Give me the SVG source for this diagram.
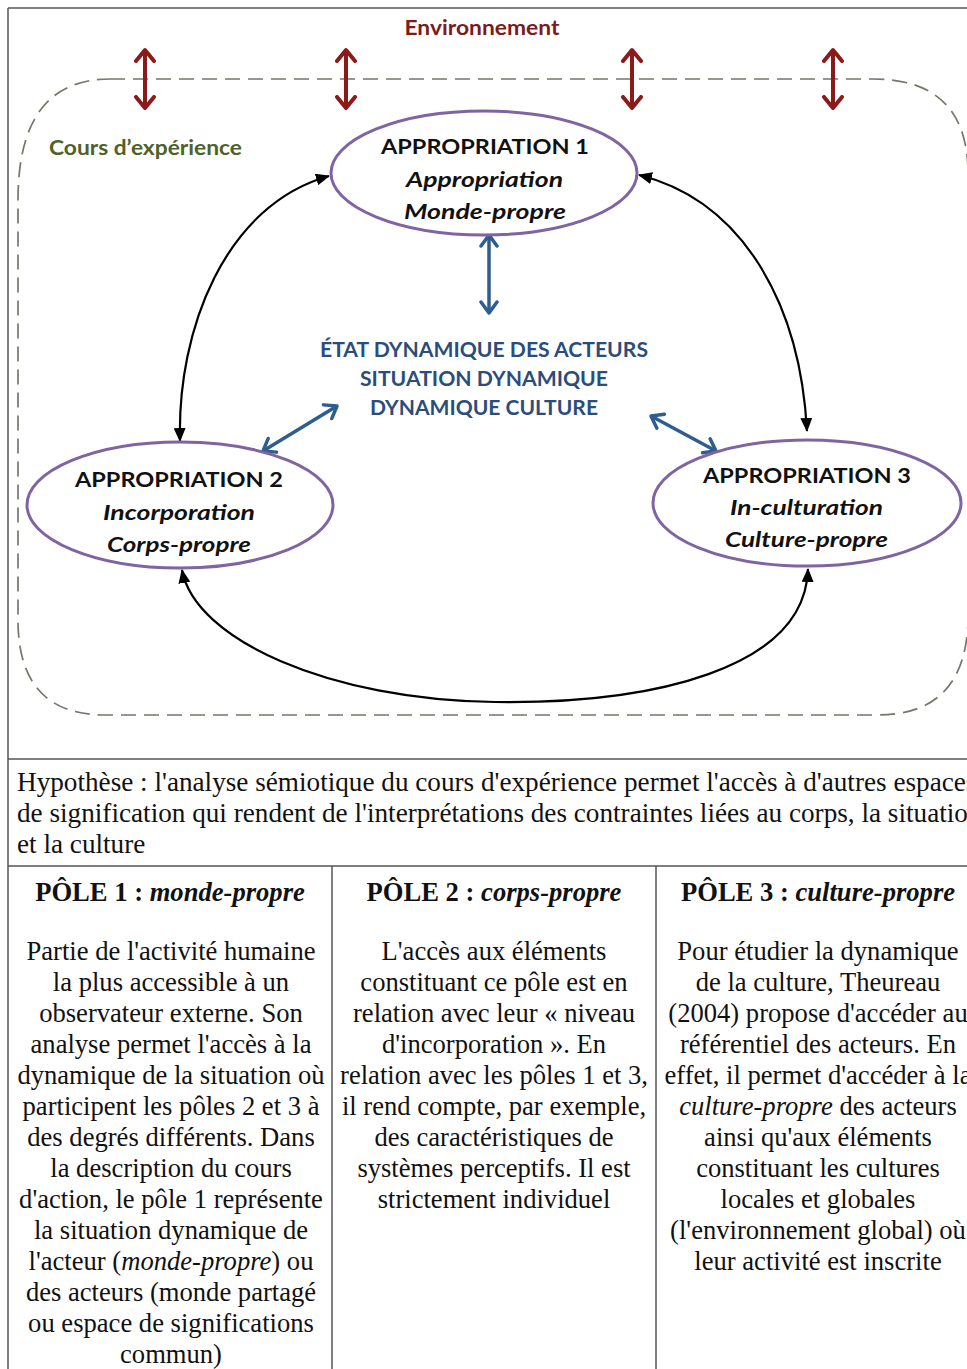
<svg xmlns="http://www.w3.org/2000/svg" width="967" height="1369" viewBox="0 0 967 1369">
<style>
.sans{font-family:Lato,"Open Sans","Liberation Sans",sans-serif;font-weight:bold}
.ell{fill:#fff;stroke:#8064a2;stroke-width:3}
.etxt{font-size:21.5px;fill:#111;text-anchor:middle}
.it{font-style:italic}
.ctr{font-size:20px;fill:#2a4d7c;text-anchor:middle}
.red{stroke:#8b1a1a;stroke-width:4;fill:none}
.blue{stroke:#2e5d8f;stroke-width:3.5;fill:none}
.blk{stroke:#000;stroke-width:2.2;fill:none}
.tb{stroke:#555;stroke-width:1.5;fill:none}
.ser{font-family:"Liberation Serif","Times New Roman",serif;font-size:26.6px;fill:#111}
.hyp{font-size:27.2px}
.c{text-anchor:middle}
.b{font-weight:bold}
</style>
<defs>
<marker id="mr" viewBox="0 0 16 22" refX="13" refY="11" markerWidth="16" markerHeight="22" markerUnits="userSpaceOnUse" orient="auto-start-reverse">
<path d="M2,2 L13,11 L2,20" fill="none" stroke="#8b1a1a" stroke-width="4" stroke-linecap="round" stroke-linejoin="round"/>
</marker>
<marker id="mb" viewBox="0 0 16 20" refX="13" refY="10" markerWidth="16" markerHeight="20" markerUnits="userSpaceOnUse" orient="auto-start-reverse">
<path d="M2,2 L13,10 L2,18" fill="none" stroke="#2e5d8f" stroke-width="3.5" stroke-linecap="round" stroke-linejoin="round"/>
</marker>
<marker id="mk" viewBox="0 0 14 12" refX="13" refY="6" markerWidth="14" markerHeight="12" markerUnits="userSpaceOnUse" orient="auto-start-reverse">
<path d="M0,0 L14,6 L0,12 Z" fill="#000"/>
</marker>
</defs>
<rect width="967" height="1369" fill="#fff"/>

<g id="table">
<path class="tb" d="M8,8 H967 M8,8 V1369 M8,759 H967 M8,866 H967 M332,866 V1369 M656,866 V1369"/>
</g>

<g id="cours">
<path d="M110,79 H873 Q966,79 968,170 V620 Q966,715 877,715 H105 Q18,715 18,620 V200 Q18,79 110,79 Z" fill="none" stroke="#76766a" stroke-width="1.7" stroke-dasharray="15,8"/>
<text class="sans" x="49" y="155" font-size="21" fill="#4f6228" textLength="193" lengthAdjust="spacingAndGlyphs">Cours d’expérience</text>
</g>

<g id="environnement">
<text class="sans" x="482" y="35" font-size="21" fill="#7b1c1c" text-anchor="middle" textLength="155" lengthAdjust="spacingAndGlyphs">Environnement</text>
</g>

<g id="connectors">
<line class="red" x1="145" y1="50" x2="145" y2="108" marker-start="url(#mr)" marker-end="url(#mr)"/>
<line class="red" x1="346" y1="50" x2="346" y2="108" marker-start="url(#mr)" marker-end="url(#mr)"/>
<line class="red" x1="632" y1="50" x2="632" y2="108" marker-start="url(#mr)" marker-end="url(#mr)"/>
<line class="red" x1="833" y1="50" x2="833" y2="108" marker-start="url(#mr)" marker-end="url(#mr)"/>
<line class="blue" x1="489" y1="235" x2="489" y2="313" marker-start="url(#mb)" marker-end="url(#mb)"/>
<line class="blue" x1="263" y1="451" x2="337" y2="406" marker-start="url(#mb)" marker-end="url(#mb)"/>
<line class="blue" x1="651" y1="416" x2="716" y2="451" marker-start="url(#mb)" marker-end="url(#mb)"/>
<path class="blk" d="M180,441 C177,330 225,205 329,176" marker-start="url(#mk)" marker-end="url(#mk)"/>
<path class="blk" d="M639,175 C740,200 800,300 807,431" marker-start="url(#mk)" marker-end="url(#mk)"/>
<path class="blk" d="M182,570 C195,640 330,700 495,702 C650,704 805,670 808,569" marker-start="url(#mk)" marker-end="url(#mk)"/>
</g>

<g id="appropriation1">
<ellipse class="ell" cx="484" cy="173" rx="153" ry="62"/>
<text class="sans etxt" x="485" y="154" textLength="208" lengthAdjust="spacingAndGlyphs">APPROPRIATION 1</text>
<text class="sans etxt it" x="484.5" y="187" textLength="157" lengthAdjust="spacingAndGlyphs">Appropriation</text>
<text class="sans etxt it" x="485" y="219" textLength="162" lengthAdjust="spacingAndGlyphs">Monde-propre</text>
</g>

<g id="appropriation2">
<ellipse class="ell" cx="180" cy="505" rx="153" ry="63"/>
<text class="sans etxt" x="179" y="487" textLength="208" lengthAdjust="spacingAndGlyphs">APPROPRIATION 2</text>
<text class="sans etxt it" x="179" y="520" textLength="152" lengthAdjust="spacingAndGlyphs">Incorporation</text>
<text class="sans etxt it" x="179" y="552" textLength="144" lengthAdjust="spacingAndGlyphs">Corps-propre</text>
</g>

<g id="appropriation3">
<ellipse class="ell" cx="807" cy="503" rx="154" ry="63"/>
<text class="sans etxt" x="807" y="483" textLength="208" lengthAdjust="spacingAndGlyphs">APPROPRIATION 3</text>
<text class="sans etxt it" x="806.5" y="515" textLength="153" lengthAdjust="spacingAndGlyphs">In-culturation</text>
<text class="sans etxt it" x="806.5" y="547" textLength="163" lengthAdjust="spacingAndGlyphs">Culture-propre</text>
</g>

<g id="etat">
<text class="sans ctr" x="484" y="357" textLength="328" lengthAdjust="spacingAndGlyphs">ÉTAT DYNAMIQUE DES ACTEURS</text>
<text class="sans ctr" x="484" y="386" textLength="248" lengthAdjust="spacingAndGlyphs">SITUATION DYNAMIQUE</text>
<text class="sans ctr" x="484" y="415" textLength="228" lengthAdjust="spacingAndGlyphs">DYNAMIQUE CULTURE</text>
</g>

<g id="hypothese" class="ser hyp">
<text x="17" y="791">Hypothèse : l'analyse sémiotique du cours d'expérience permet l'accès à d'autres espaces</text>
<text x="17" y="822">de signification qui rendent de l'interprétations des contraintes liées au corps, la situation</text>
<text x="17" y="853">et la culture</text>
</g>

<g id="pole1" class="ser c">
<text x="170" y="901" class="b">PÔLE 1 : <tspan font-style="italic">monde-propre</tspan></text>
<text x="171" y="960">Partie de l'activité humaine</text>
<text x="171" y="991">la plus accessible à un</text>
<text x="171" y="1022">observateur externe. Son</text>
<text x="171" y="1053">analyse permet l'accès à la</text>
<text x="171" y="1084">dynamique de la situation où</text>
<text x="171" y="1115">participent les pôles 2 et 3 à</text>
<text x="171" y="1146">des degrés différents. Dans</text>
<text x="171" y="1177">la description du cours</text>
<text x="171" y="1208">d'action, le pôle 1 représente</text>
<text x="171" y="1239">la situation dynamique de</text>
<text x="171" y="1270">l'acteur (<tspan font-style="italic">monde-propre</tspan>) ou</text>
<text x="171" y="1301">des acteurs (monde partagé</text>
<text x="171" y="1332">ou espace de significations</text>
<text x="171" y="1363">commun)</text>
</g>

<g id="pole2" class="ser c">
<text x="494" y="901" class="b">PÔLE 2 : <tspan font-style="italic">corps-propre</tspan></text>
<text x="494" y="960">L'accès aux éléments</text>
<text x="494" y="991">constituant ce pôle est en</text>
<text x="494" y="1022">relation avec leur « niveau</text>
<text x="494" y="1053">d'incorporation ». En</text>
<text x="494" y="1084">relation avec les pôles 1 et 3,</text>
<text x="494" y="1115">il rend compte, par exemple,</text>
<text x="494" y="1146">des caractéristiques de</text>
<text x="494" y="1177">systèmes perceptifs. Il est</text>
<text x="494" y="1208">strictement individuel</text>
</g>

<g id="pole3" class="ser c">
<text x="818" y="901" class="b">PÔLE 3 : <tspan font-style="italic">culture-propre</tspan></text>
<text x="818" y="960">Pour étudier la dynamique</text>
<text x="818" y="991">de la culture, Theureau</text>
<text x="818" y="1022">(2004) propose d'accéder au</text>
<text x="818" y="1053">référentiel des acteurs. En</text>
<text x="818" y="1084">effet, il permet d'accéder à la</text>
<text x="818" y="1115"><tspan font-style="italic">culture-propre</tspan> des acteurs</text>
<text x="818" y="1146">ainsi qu'aux éléments</text>
<text x="818" y="1177">constituant les cultures</text>
<text x="818" y="1208">locales et globales</text>
<text x="818" y="1239">(l'environnement global) où</text>
<text x="818" y="1270">leur activité est inscrite</text>
</g>
</svg>
